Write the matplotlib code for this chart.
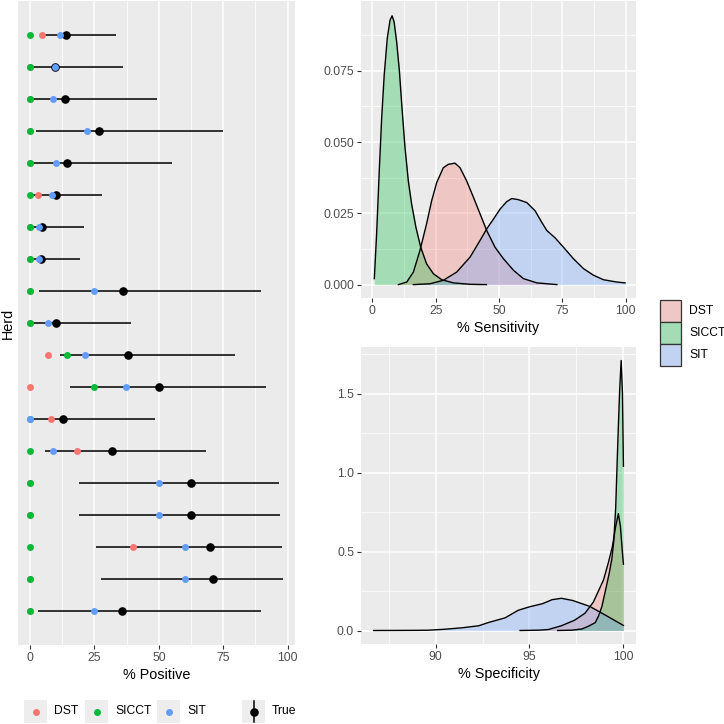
import matplotlib
matplotlib.use("Agg")
import matplotlib.pyplot as plt
from matplotlib.patches import Rectangle
from matplotlib.lines import Line2D
from matplotlib.colors import to_rgb

plt.rcParams['font.family'] = ['Liberation Sans', 'DejaVu Sans']

# ---- per-herd % positive (top row first) ----
herd = list(range(1, 20))
dst = [4.7, 0, 0, 0, 0, 2.9, 0, 0, 0, 0, 7.0, 0, 8.2, 18.1, 0, 0, 39.8, 0, 0]
sicct = [0, 0, 0, 0, 0, 0, 0, 0, 0, 0, 14.2, 25.0, 0, 0, 0, 0, 0, 0, 0]
sit = [11.8, 9.8, 9.0, 22.1, 10.0, 8.6, 3.6, 3.5, 25.0, 7.0, 21.4, 37.4, 0, 9.0, 50.0, 50.0, 60.0, 60.0, 25.0]
true_est = [13.8, 9.8, 13.4, 26.8, 14.5, 9.9, 4.6, 4.3, 36.1, 10.2, 38.0, 50.1, 12.9, 32.0, 62.5, 62.6, 69.9, 71.0, 35.8]
true_lo = [5.0, 1.2, 1.0, 2.1, 1.2, 1.0, 0.8, 0.8, 3.4, 1.0, 11.7, 15.5, 0.0, 5.9, 19.0, 19.0, 25.7, 27.7, 2.9]
true_hi = [33.2, 36.1, 49.4, 75.1, 55.2, 28.1, 20.8, 19.4, 89.5, 39.2, 79.6, 91.7, 48.6, 68.2, 96.7, 97.0, 97.9, 98.2, 89.7]

# ---- sensitivity densities ----
dst_sens_x = [10.3, 13.6, 16.2, 18.8, 21.4, 23.4, 25.4, 28.0, 30.0, 32.6, 34.6, 37.2, 39.9, 42.5, 45.1, 48.4, 51.7, 55.7, 59.6, 64.9, 72.8]
dst_sens_y = [0.0, 0.0009, 0.0044, 0.012, 0.0213, 0.0294, 0.0358, 0.041, 0.0422, 0.0426, 0.041, 0.0364, 0.0306, 0.0248, 0.019, 0.0131, 0.0091, 0.005, 0.0021, 0.0006, 0.0]
sicct_sens_x = [0.8, 1.7, 2.8, 3.7, 4.7, 5.9, 7.0, 7.8, 8.6, 9.6, 10.7, 11.7, 12.9, 14.2, 15.5, 17.2, 19.1, 21.4, 24.1, 27.4, 32.0, 38.6, 45.0]
sicct_sens_y = [0.0021, 0.0178, 0.041, 0.0585, 0.0736, 0.0864, 0.0928, 0.0943, 0.0922, 0.0852, 0.0748, 0.062, 0.048, 0.0364, 0.0283, 0.0201, 0.0131, 0.0073, 0.0038, 0.0017, 0.0006, 0.0001, 0.0]
sit_sens_x = [16.2, 22.8, 28.0, 33.3, 38.6, 42.5, 45.1, 47.8, 50.4, 53.0, 55.0, 57.6, 60.9, 64.2, 66.8, 68.8, 72.1, 75.4, 79.3, 83.3, 87.2, 91.2, 96.4, 99.7]
sit_sens_y = [0.0, 0.0003, 0.0015, 0.0044, 0.0097, 0.0155, 0.0195, 0.023, 0.0265, 0.0291, 0.0302, 0.0298, 0.0288, 0.0259, 0.0219, 0.019, 0.0164, 0.0131, 0.0091, 0.0056, 0.0033, 0.0017, 0.0009, 0.0006]

# ---- specificity densities ----
dst_spec_x = [94.5, 95.5, 96.0, 96.7, 97.4, 97.96, 98.4, 98.67, 98.94, 99.2, 99.41, 99.59, 99.73, 99.84, 99.95, 100.0]
dst_spec_y = [0.0, 0.002, 0.006, 0.03, 0.065, 0.11, 0.18, 0.25, 0.32, 0.43, 0.53, 0.66, 0.74, 0.66, 0.49, 0.42]
sicct_spec_x = [96.5, 97.25, 97.8, 98.14, 98.5, 98.67, 98.85, 99.02, 99.24, 99.38, 99.49, 99.59, 99.66, 99.73, 99.8, 99.88, 99.95, 100.0]
sicct_spec_y = [0.0, 0.002, 0.01, 0.027, 0.05, 0.09, 0.15, 0.24, 0.36, 0.45, 0.57, 0.78, 1.04, 1.29, 1.52, 1.71, 1.5, 1.04]
sit_spec_x = [86.7, 88.0, 89.0, 89.65, 90.5, 91.4, 92.3, 92.8, 93.7, 94.4, 95.0, 95.7, 96.2, 96.7, 97.3, 98.2, 99.0, 100.0]
sit_spec_y = [0.0, 0.0005, 0.001, 0.002, 0.008, 0.017, 0.03, 0.05, 0.08, 0.128, 0.15, 0.17, 0.195, 0.204, 0.19, 0.153, 0.10, 0.032]

tests = ["DST", "SICCT", "SIT"]
colors = {"DST": "#F8766D", "SICCT": "#00BA38", "SIT": "#619CFF"}

W = 724.0


def box(l, t, r, b):
    return [l / W, 1 - b / W, (r - l) / W, (b - t) / W]


def gg_style(ax):
    ax.set_facecolor("#EBEBEB")
    for s in ax.spines.values():
        s.set_visible(False)
    ax.grid(True, which="major", color="white", lw=1.1)
    ax.grid(True, which="minor", color="white", lw=0.55)
    ax.set_axisbelow(True)
    ax.tick_params(which="major", color="#333333", length=3, width=0.8,
                   labelcolor="#4D4D4D", labelsize=8.7, pad=2)
    ax.tick_params(which="minor", length=0)


fig = plt.figure(figsize=(7.24, 7.24), dpi=100)

# ---- left: per herd ----
ax = fig.add_axes(box(18, 1, 295, 645))
gg_style(ax)
ax.hlines(herd, true_lo, true_hi, color="black", lw=1.1, zorder=2)
ax.plot(true_est, herd, "o", color="black", ms=6.2, mew=0, zorder=3)
for name, vals in zip(tests, [dst, sicct, sit]):
    ax.plot(vals, herd, "o", color=colors[name], ms=5.0, mew=0, zorder=4)
ax.set_xlim(-4.7, 102.9)
ax.set_ylim(19 + 1.08, 1 - 1.08)
ax.set_xticks([0, 25, 50, 75, 100])
ax.set_xticks([12.5, 37.5, 62.5, 87.5], minor=True)
ax.set_yticks([])
ax.grid(False, axis="y", which="both")
ax.set_xlabel("% Positive", fontsize=10.4, labelpad=3)
fig.text(8 / W, 1 - 323 / W, "Herd", rotation=90, fontsize=10.4,
         ha="center", va="center")


def density(ax, xs, ys, name):
    ax.fill_between(xs, 0, ys, color=colors[name], alpha=0.3, lw=0)
    ax.plot(xs, ys, color="black", lw=1.0)


# ---- top right: sensitivity ----
ax1 = fig.add_axes(box(361, 1, 636, 298))
gg_style(ax1)
density(ax1, dst_sens_x, dst_sens_y, "DST")
density(ax1, sicct_sens_x, sicct_sens_y, "SICCT")
density(ax1, sit_sens_x, sit_sens_y, "SIT")
ax1.set_xlim(-4.46, 104.0)
ax1.set_ylim(-0.0047, 0.0995)
ax1.set_xticks([0, 25, 50, 75, 100])
ax1.set_xticks([12.5, 37.5, 62.5, 87.5], minor=True)
ax1.set_yticks([0.0, 0.025, 0.05, 0.075])
ax1.set_yticklabels(["0.000", "0.025", "0.050", "0.075"])
ax1.set_yticks([0.0125, 0.0375, 0.0625, 0.0875], minor=True)
ax1.set_xlabel("% Sensitivity", fontsize=10.4, labelpad=3)

# ---- bottom right: specificity ----
ax2 = fig.add_axes(box(361, 347, 636, 644))
gg_style(ax2)
density(ax2, dst_spec_x, dst_spec_y, "DST")
density(ax2, sicct_spec_x, sicct_spec_y, "SICCT")
density(ax2, sit_spec_x, sit_spec_y, "SIT")
ax2.set_xlim(86.03, 100.67)
ax2.set_ylim(-0.0855, 1.7955)
ax2.set_xticks([90, 95, 100])
ax2.set_xticks([87.5, 92.5, 97.5], minor=True)
ax2.set_yticks([0.0, 0.5, 1.0, 1.5])
ax2.set_yticklabels(["0.0", "0.5", "1.0", "1.5"])
ax2.set_yticks([0.25, 0.75, 1.25, 1.75], minor=True)
ax2.set_xlabel("% Specificity", fontsize=10.4, labelpad=3)

# ---- right legend (fill) ----
bg = to_rgb("#EBEBEB")
for i, name in enumerate(tests):
    c = to_rgb(colors[name])
    mix = tuple(0.3 * a + 0.7 * b for a, b in zip(c, bg))
    top = 299.5 + i * 22.3
    fig.add_artist(Rectangle((660 / W, 1 - (top + 22.3) / W), 21 / W, 22.3 / W,
                             transform=fig.transFigure, facecolor=mix,
                             edgecolor="#333333", lw=0.9))
    fig.text(689 / W, 1 - (top + 11.2) / W, name, fontsize=8.7,
             va="center", ha="left", color="black")

# ---- bottom legend (points) ----
key_l = [24, 85, 157, 242]
labels = ["DST", "SICCT", "SIT", "True"]
for i, lab in enumerate(labels):
    l = key_l[i]
    fig.add_artist(Rectangle((l / W, 1 - 723 / W), 23 / W, 23 / W,
                             transform=fig.transFigure, facecolor="#EDEDED",
                             edgecolor="none"))
    cx = (l + 11.5) / W
    cy = 1 - 711.5 / W
    if lab == "True":
        fig.add_artist(Line2D([cx, cx], [1 - 701 / W, 1 - 722 / W],
                              transform=fig.transFigure, color="black", lw=1.1))
        fig.add_artist(Line2D([cx], [cy], transform=fig.transFigure,
                              marker="o", color="black", ms=6.2, mew=0))
    else:
        fig.add_artist(Line2D([cx], [cy], transform=fig.transFigure,
                              marker="o", color=colors[lab], ms=5.0, mew=0))
    fig.text((l + 30) / W, cy, lab, fontsize=8.7, va="center", ha="left")

fig.savefig("out.png", dpi=100)
